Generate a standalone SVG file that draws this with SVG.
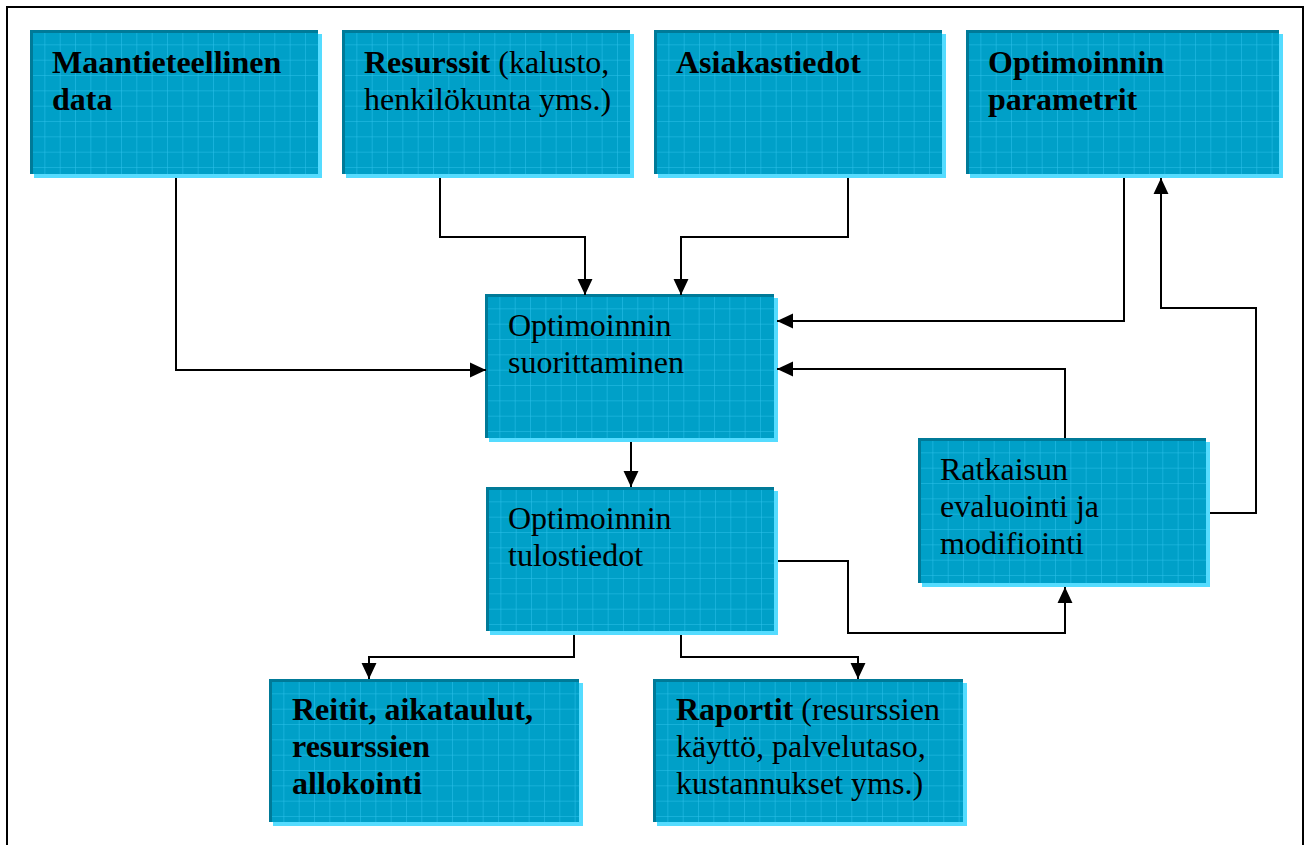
<svg xmlns="http://www.w3.org/2000/svg" width="1306" height="845" viewBox="0 0 1306 845">
<style>
.bx{fill:url(#grid)}
.sh{fill:#55dcff}
.bd{fill:none;stroke:#007a98;stroke-width:3}
text{font-family:"Liberation Serif","Times New Roman",serif;font-size:32px;fill:#000}
.b{font-weight:bold}
.cn{fill:none;stroke:#000;stroke-width:2}
</style>
<defs>
<pattern id="grid" patternUnits="userSpaceOnUse" width="15.33" height="15.33">
<rect width="15.33" height="15.33" fill="#00a0c8"/>
<path d="M15.33,0 V15.33 M0,15.33 H15.33" stroke="#3ccdf5" stroke-width="1" fill="none" opacity="0.75"/>
</pattern>
<marker id="ar" markerUnits="userSpaceOnUse" markerWidth="16" markerHeight="16" viewBox="0 0 15 14" refX="15" refY="7" orient="auto">
<path d="M0,0 L15,7 L0,14 Z" fill="#000"/>
</marker>
</defs>
<rect width="1306" height="845" fill="#fff"/>
<path d="M7,850 V7 H1303 V850" fill="none" stroke="#000" stroke-width="2"/>

<g id="n1" transform="translate(30,30)">
<rect class="sh" x="4" y="4" width="288" height="144"/>
<rect class="bx" width="288" height="144"/>
<path class="bd" d="M1.5,144 V1.5 H288"/>
<text class="b" x="22" y="43">Maantieteellinen</text>
<text class="b" x="22" y="79.5">data</text>
</g>
<g id="n2" transform="translate(342,30)">
<rect class="sh" x="4" y="4" width="288" height="144"/>
<rect class="bx" width="288" height="144"/>
<path class="bd" d="M1.5,144 V1.5 H288"/>
<text x="22" y="43"><tspan class="b">Resurssit</tspan> (kalusto,</text>
<text x="22" y="79.5">henkilökunta yms.)</text>
</g>
<g id="n3" transform="translate(654,30)">
<rect class="sh" x="4" y="4" width="288" height="144"/>
<rect class="bx" width="288" height="144"/>
<path class="bd" d="M1.5,144 V1.5 H288"/>
<text class="b" x="22" y="43">Asiakastiedot</text>
</g>
<g id="n4" transform="translate(966,30)">
<rect class="sh" x="4" y="4" width="313" height="144"/>
<rect class="bx" width="313" height="144"/>
<path class="bd" d="M1.5,144 V1.5 H313"/>
<text class="b" x="22" y="43">Optimoinnin</text>
<text class="b" x="22" y="79.5">parametrit</text>
</g>
<g id="n5" transform="translate(485,294)">
<rect class="sh" x="4" y="4" width="289" height="144"/>
<rect class="bx" width="289" height="144"/>
<path class="bd" d="M1.5,144 V1.5 H289"/>
<text x="23" y="42">Optimoinnin</text>
<text x="23" y="78.5">suorittaminen</text>
</g>
<g id="n6" transform="translate(486,487)">
<rect class="sh" x="4" y="4" width="288" height="144"/>
<rect class="bx" width="288" height="144"/>
<path class="bd" d="M1.5,144 V1.5 H288"/>
<text x="22" y="42">Optimoinnin</text>
<text x="22" y="78.5">tulostiedot</text>
</g>
<g id="n7" transform="translate(918,438)">
<rect class="sh" x="4" y="4" width="288" height="145"/>
<rect class="bx" width="288" height="145"/>
<path class="bd" d="M1.5,145 V1.5 H288"/>
<text x="22" y="42">Ratkaisun</text>
<text x="22" y="79">evaluointi ja</text>
<text x="22" y="116">modifiointi</text>
</g>
<g id="n8" transform="translate(269,679)">
<rect class="sh" x="4" y="4" width="310" height="143"/>
<rect class="bx" width="310" height="143"/>
<path class="bd" d="M1.5,143 V1.5 H310"/>
<text class="b" x="23" y="41">Reitit, aikataulut,</text>
<text class="b" x="23" y="78">resurssien</text>
<text class="b" x="23" y="115">allokointi</text>
</g>
<g id="n9" transform="translate(653,679)">
<rect class="sh" x="4" y="4" width="310" height="143"/>
<rect class="bx" width="310" height="143"/>
<path class="bd" d="M1.5,143 V1.5 H310"/>
<text x="23" y="41"><tspan class="b">Raportit</tspan> (resurssien</text>
<text x="23" y="78">käyttö, palvelutaso,</text>
<text x="23" y="115">kustannukset yms.)</text>
</g>

<g id="connectors">
<path class="cn" marker-end="url(#ar)" d="M176,178 V370 H486"/>
<path class="cn" marker-end="url(#ar)" d="M440,178 V237 H585 V295"/>
<path class="cn" marker-end="url(#ar)" d="M848,178 V237 H681 V295"/>
<path class="cn" marker-end="url(#ar)" d="M1124,178 V321 H777"/>
<path class="cn" marker-end="url(#ar)" d="M1065,438 V369 H777"/>
<path class="cn" marker-end="url(#ar)" d="M1210,513 H1256 V308 H1161 V178"/>
<path class="cn" marker-end="url(#ar)" d="M631,442 V487"/>
<path class="cn" marker-end="url(#ar)" d="M778,561 H848 V633 H1065 V587"/>
<path class="cn" marker-end="url(#ar)" d="M574,635 V657 H369 V679"/>
<path class="cn" marker-end="url(#ar)" d="M681,635 V657 H858 V679"/>
</g>
</svg>
